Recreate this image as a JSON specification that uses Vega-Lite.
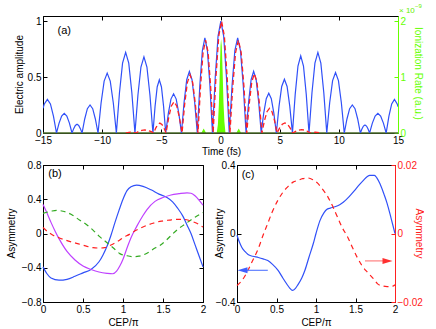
{
"$schema": "https://vega.github.io/schema/vega-lite/v6.json",
"background": "white",
"padding": {"left": 5, "top": 2, "right": 0, "bottom": 0},
"spacing": 2,
"config": {
 "view": {"stroke": "#000", "strokeWidth": 1},
 "axis": {"labelFont": "Liberation Sans", "labelFontSize": 10, "titleFont": "Liberation Sans", "titleFontSize": 10, "titleFontWeight": "normal", "labelColor": "#000", "titleColor": "#000", "domainColor": "#000", "tickColor": "#000", "tickSize": -4, "labelPadding": 6, "grid": false, "labelFlush": false, "labelOverlap": false},
 "text": {"font": "Liberation Sans"}
},
"datasets": {
 "blueA": [
  {"t":-15,"v":0.22},{"t":-14.887,"v":0.26},{"t":-14.63,"v":0.30},{"t":-14.373,"v":0.26},{"t":-14.117,"v":0.15},{"t":-13.86,"v":0},
  {"t":-13.642,"v":0.088},{"t":-13.423,"v":0.152},{"t":-13.205,"v":0.176},{"t":-12.987,"v":0.152},{"t":-12.768,"v":0.088},{"t":-12.55,"v":0},
  {"t":-12.408,"v":0.039},{"t":-12.267,"v":0.068},{"t":-12.125,"v":0.078},{"t":-11.983,"v":0.068},{"t":-11.842,"v":0.039},{"t":-11.7,"v":0},
  {"t":-11.475,"v":0.125},{"t":-11.25,"v":0.217},{"t":-11.025,"v":0.25},{"t":-10.8,"v":0.217},{"t":-10.575,"v":0.125},{"t":-10.35,"v":0},
  {"t":-10.092,"v":0.268},{"t":-9.833,"v":0.463},{"t":-9.575,"v":0.535},{"t":-9.317,"v":0.463},{"t":-9.058,"v":0.268},{"t":-8.8,"v":0},
  {"t":-8.538,"v":0.36},{"t":-8.277,"v":0.624},{"t":-8.015,"v":0.72},{"t":-7.753,"v":0.624},{"t":-7.492,"v":0.36},{"t":-7.23,"v":0},
  {"t":-6.977,"v":0.34},{"t":-6.723,"v":0.589},{"t":-6.47,"v":0.68},{"t":-6.217,"v":0.589},{"t":-5.963,"v":0.34},{"t":-5.71,"v":0},
  {"t":-5.53,"v":0.238},{"t":-5.35,"v":0.411},{"t":-5.17,"v":0.475},{"t":-4.99,"v":0.411},{"t":-4.81,"v":0.238},{"t":-4.63,"v":0},
  {"t":-4.408,"v":0.175},{"t":-4.187,"v":0.303},{"t":-3.965,"v":0.35},{"t":-3.743,"v":0.303},{"t":-3.522,"v":0.175},{"t":-3.3,"v":0},
  {"t":-3.077,"v":0.275},{"t":-2.853,"v":0.476},{"t":-2.63,"v":0.55},{"t":-2.407,"v":0.476},{"t":-2.183,"v":0.275},{"t":-1.96,"v":0},
  {"t":-1.747,"v":0.425},{"t":-1.533,"v":0.736},{"t":-1.32,"v":0.85},{"t":-1.107,"v":0.736},{"t":-0.893,"v":0.425},{"t":-0.68,"v":0},
  {"t":-0.443,"v":0.5},{"t":-0.207,"v":0.866},{"t":0.03,"v":1.0},{"t":0.267,"v":0.866},{"t":0.503,"v":0.5},{"t":0.74,"v":0},
  {"t":0.977,"v":0.425},{"t":1.213,"v":0.736},{"t":1.45,"v":0.85},{"t":1.687,"v":0.736},{"t":1.923,"v":0.425},{"t":2.16,"v":0},
  {"t":2.373,"v":0.275},{"t":2.587,"v":0.476},{"t":2.8,"v":0.55},{"t":3.013,"v":0.476},{"t":3.227,"v":0.275},{"t":3.44,"v":0},
  {"t":3.653,"v":0.178},{"t":3.867,"v":0.307},{"t":4.08,"v":0.355},{"t":4.293,"v":0.307},{"t":4.507,"v":0.178},{"t":4.72,"v":0},
  {"t":4.947,"v":0.24},{"t":5.173,"v":0.416},{"t":5.4,"v":0.48},{"t":5.627,"v":0.416},{"t":5.853,"v":0.24},{"t":6.08,"v":0},
  {"t":6.313,"v":0.345},{"t":6.547,"v":0.598},{"t":6.78,"v":0.69},{"t":7.013,"v":0.598},{"t":7.247,"v":0.345},{"t":7.48,"v":0},
  {"t":7.73,"v":0.36},{"t":7.98,"v":0.624},{"t":8.23,"v":0.72},{"t":8.48,"v":0.624},{"t":8.73,"v":0.36},{"t":8.98,"v":0},
  {"t":9.227,"v":0.27},{"t":9.473,"v":0.468},{"t":9.72,"v":0.54},{"t":9.967,"v":0.468},{"t":10.213,"v":0.27},{"t":10.46,"v":0},
  {"t":10.687,"v":0.125},{"t":10.913,"v":0.217},{"t":11.14,"v":0.25},{"t":11.367,"v":0.217},{"t":11.593,"v":0.125},{"t":11.82,"v":0},
  {"t":11.95,"v":0.036},{"t":12.08,"v":0.062},{"t":12.21,"v":0.072},{"t":12.34,"v":0.062},{"t":12.47,"v":0.036},{"t":12.6,"v":0},
  {"t":12.833,"v":0.088},{"t":13.067,"v":0.152},{"t":13.3,"v":0.176},{"t":13.533,"v":0.152},{"t":13.767,"v":0.088},{"t":14.0,"v":0},
  {"t":14.233,"v":0.15},{"t":14.467,"v":0.26},{"t":14.7,"v":0.30},{"t":14.933,"v":0.26},{"t":15,"v":0.235}
 ],
 "redA": [
  {"t":-8,"v":0},{"t":-7.6,"v":0.008},{"t":-7.15,"v":0},
  {"t":-6.9,"v":0.014},{"t":-6.65,"v":0.024},{"t":-6.4,"v":0.028},{"t":-6.15,"v":0.024},{"t":-5.9,"v":0.014},{"t":-5.65,"v":0},
  {"t":-5.475,"v":0.044},{"t":-5.3,"v":0.076},{"t":-5.125,"v":0.088},{"t":-4.95,"v":0.076},{"t":-4.775,"v":0.044},{"t":-4.6,"v":0},
  {"t":-4.375,"v":0.14},{"t":-4.15,"v":0.242},{"t":-3.925,"v":0.28},{"t":-3.7,"v":0.242},{"t":-3.475,"v":0.14},{"t":-3.25,"v":0},
  {"t":-3.025,"v":0.26},{"t":-2.8,"v":0.45},{"t":-2.575,"v":0.52},{"t":-2.35,"v":0.45},{"t":-2.125,"v":0.26},{"t":-1.9,"v":0},
  {"t":-1.687,"v":0.415},{"t":-1.473,"v":0.719},{"t":-1.26,"v":0.83},{"t":-1.047,"v":0.719},{"t":-0.833,"v":0.415},{"t":-0.62,"v":0},
  {"t":-0.383,"v":0.5},{"t":-0.147,"v":0.866},{"t":0.09,"v":1.0},{"t":0.327,"v":0.866},{"t":0.563,"v":0.5},{"t":0.8,"v":0},
  {"t":1.037,"v":0.415},{"t":1.273,"v":0.719},{"t":1.51,"v":0.83},{"t":1.747,"v":0.719},{"t":1.983,"v":0.415},{"t":2.22,"v":0},
  {"t":2.433,"v":0.265},{"t":2.647,"v":0.459},{"t":2.86,"v":0.53},{"t":3.073,"v":0.459},{"t":3.287,"v":0.265},{"t":3.5,"v":0},
  {"t":3.713,"v":0.11},{"t":3.927,"v":0.19},{"t":4.14,"v":0.22},{"t":4.353,"v":0.19},{"t":4.567,"v":0.11},{"t":4.78,"v":0},
  {"t":5.0,"v":0.045},{"t":5.22,"v":0.078},{"t":5.44,"v":0.09},{"t":5.66,"v":0.078},{"t":5.88,"v":0.045},{"t":6.1,"v":0},
  {"t":6.35,"v":0.015},{"t":6.6,"v":0.026},{"t":6.85,"v":0.03},{"t":7.1,"v":0.026},{"t":7.35,"v":0.015},{"t":7.6,"v":0},
  {"t":8.0,"v":0.008},{"t":8.5,"v":0}
 ],
 "greenA": [
  {"t":-15,"r":0},{"t":-1.62,"r":0},{"t":-1.42,"r":0.08},{"t":-1.22,"r":0},{"t":-0.32,"r":0},{"t":-0.22,"r":0.15},{"t":-0.14,"r":0.5},{"t":-0.06,"r":1.1},{"t":0,"r":1.55},{"t":0.05,"r":1.68},{"t":0.11,"r":1.55},{"t":0.18,"r":1.1},{"t":0.25,"r":0.55},{"t":0.33,"r":0.2},{"t":0.42,"r":0},{"t":1.34,"r":0},{"t":1.54,"r":0.08},{"t":1.74,"r":0},{"t":15,"r":0}
 ],
 "bBlue": [
  {"x":0,"y":-0.39},{"x":0.05,"y":-0.47},{"x":0.1,"y":-0.52},{"x":0.2,"y":-0.545},{"x":0.3,"y":-0.535},{"x":0.4,"y":-0.5},{"x":0.5,"y":-0.46},{"x":0.6,"y":-0.42},{"x":0.7,"y":-0.33},{"x":0.75,"y":-0.25},{"x":0.8,"y":-0.15},{"x":0.85,"y":-0.02},{"x":0.9,"y":0.13},{"x":0.95,"y":0.27},{"x":1.0,"y":0.4},{"x":1.05,"y":0.5},{"x":1.1,"y":0.545},{"x":1.17,"y":0.565},{"x":1.25,"y":0.55},{"x":1.35,"y":0.51},{"x":1.45,"y":0.46},{"x":1.55,"y":0.42},{"x":1.62,"y":0.37},{"x":1.68,"y":0.3},{"x":1.75,"y":0.2},{"x":1.8,"y":0.1},{"x":1.85,"y":0.0},{"x":1.9,"y":-0.13},{"x":1.95,"y":-0.26},{"x":2.0,"y":-0.39}
 ],
 "bMag": [
  {"x":0,"y":0.34},{"x":0.05,"y":0.24},{"x":0.1,"y":0.13},{"x":0.15,"y":0.03},{"x":0.2,"y":-0.06},{"x":0.3,"y":-0.21},{"x":0.4,"y":-0.31},{"x":0.5,"y":-0.38},{"x":0.6,"y":-0.42},{"x":0.7,"y":-0.45},{"x":0.8,"y":-0.465},{"x":0.87,"y":-0.47},{"x":0.92,"y":-0.44},{"x":0.96,"y":-0.38},{"x":1.0,"y":-0.3},{"x":1.05,"y":-0.17},{"x":1.1,"y":-0.05},{"x":1.17,"y":0.08},{"x":1.25,"y":0.21},{"x":1.3,"y":0.28},{"x":1.4,"y":0.375},{"x":1.5,"y":0.42},{"x":1.6,"y":0.45},{"x":1.7,"y":0.465},{"x":1.8,"y":0.475},{"x":1.85,"y":0.47},{"x":1.9,"y":0.44},{"x":1.95,"y":0.39},{"x":2.0,"y":0.33}
 ],
 "bGreen": [
  {"x":0,"y":0.235},{"x":0.1,"y":0.26},{"x":0.17,"y":0.27},{"x":0.25,"y":0.26},{"x":0.35,"y":0.225},{"x":0.46,"y":0.155},{"x":0.55,"y":0.1},{"x":0.625,"y":0.04},{"x":0.7,"y":-0.03},{"x":0.79,"y":-0.1},{"x":0.88,"y":-0.17},{"x":0.96,"y":-0.235},{"x":1.05,"y":-0.26},{"x":1.125,"y":-0.27},{"x":1.2,"y":-0.265},{"x":1.3,"y":-0.23},{"x":1.4,"y":-0.17},{"x":1.46,"y":-0.14},{"x":1.55,"y":-0.07},{"x":1.625,"y":0.0},{"x":1.7,"y":0.06},{"x":1.79,"y":0.12},{"x":1.9,"y":0.19},{"x":2.0,"y":0.245}
 ],
 "bRed": [
  {"x":0,"y":0.07},{"x":0.06,"y":0.02},{"x":0.125,"y":-0.02},{"x":0.2,"y":-0.05},{"x":0.29,"y":-0.08},{"x":0.38,"y":-0.105},{"x":0.46,"y":-0.125},{"x":0.55,"y":-0.15},{"x":0.625,"y":-0.165},{"x":0.7,"y":-0.17},{"x":0.77,"y":-0.165},{"x":0.85,"y":-0.135},{"x":0.92,"y":-0.1},{"x":1.0,"y":-0.05},{"x":1.08,"y":-0.01},{"x":1.17,"y":0.04},{"x":1.27,"y":0.085},{"x":1.375,"y":0.12},{"x":1.48,"y":0.145},{"x":1.58,"y":0.157},{"x":1.67,"y":0.165},{"x":1.75,"y":0.165},{"x":1.82,"y":0.155},{"x":1.88,"y":0.135},{"x":1.94,"y":0.11},{"x":2.0,"y":0.075}
 ],
 "cBlue": [
  {"x":0,"y":-0.01},{"x":0.03,"y":-0.05},{"x":0.06,"y":-0.08},{"x":0.1,"y":-0.105},{"x":0.14,"y":-0.123},{"x":0.2,"y":-0.133},{"x":0.27,"y":-0.14},{"x":0.33,"y":-0.148},{"x":0.39,"y":-0.158},{"x":0.45,"y":-0.18},{"x":0.52,"y":-0.215},{"x":0.58,"y":-0.26},{"x":0.63,"y":-0.295},{"x":0.67,"y":-0.32},{"x":0.7,"y":-0.332},{"x":0.74,"y":-0.32},{"x":0.77,"y":-0.3},{"x":0.82,"y":-0.26},{"x":0.86,"y":-0.215},{"x":0.91,"y":-0.14},{"x":0.965,"y":-0.06},{"x":1.0,"y":0.0},{"x":1.05,"y":0.075},{"x":1.1,"y":0.12},{"x":1.135,"y":0.14},{"x":1.18,"y":0.148},{"x":1.24,"y":0.156},{"x":1.3,"y":0.168},{"x":1.345,"y":0.182},{"x":1.42,"y":0.215},{"x":1.49,"y":0.252},{"x":1.55,"y":0.285},{"x":1.6,"y":0.31},{"x":1.65,"y":0.333},{"x":1.68,"y":0.34},{"x":1.74,"y":0.34},{"x":1.77,"y":0.325},{"x":1.81,"y":0.29},{"x":1.86,"y":0.23},{"x":1.9,"y":0.176},{"x":1.95,"y":0.09},{"x":2.0,"y":0.0}
 ],
 "cRed": [
  {"x":0,"y":-0.0152},{"x":0.07,"y":-0.0135},{"x":0.14,"y":-0.0107},{"x":0.2,"y":-0.0078},{"x":0.27,"y":-0.0044},{"x":0.33,"y":-0.0005},{"x":0.39,"y":0.003},{"x":0.45,"y":0.0065},{"x":0.52,"y":0.0098},{"x":0.58,"y":0.012},{"x":0.645,"y":0.0137},{"x":0.71,"y":0.015},{"x":0.77,"y":0.0155},{"x":0.83,"y":0.016},{"x":0.9,"y":0.0162},{"x":0.96,"y":0.0157},{"x":1.02,"y":0.0147},{"x":1.08,"y":0.013},{"x":1.15,"y":0.0107},{"x":1.21,"y":0.008},{"x":1.27,"y":0.0049},{"x":1.33,"y":0.0018},{"x":1.4,"y":-0.001},{"x":1.46,"y":-0.004},{"x":1.52,"y":-0.0069},{"x":1.58,"y":-0.0093},{"x":1.65,"y":-0.0113},{"x":1.72,"y":-0.013},{"x":1.78,"y":-0.0147},{"x":1.84,"y":-0.0153},{"x":1.9,"y":-0.0155},{"x":1.95,"y":-0.0155},{"x":2.0,"y":-0.015}
 ]
},
"vconcat": [
 {
  "width": 355, "height": 117,
  "resolve": {"scale": {"y": "independent"}, "axis": {"x": "independent", "y": "independent"}},
  "layer": [
   {"data": {"name": "greenA"}, "mark": {"type": "area", "color": "#66ff00", "clip": true},
    "encoding": {
     "x": {"field": "t", "type": "quantitative", "scale": {"domain": [-15, 15], "nice": false}, "axis": {"orient": "top", "values": [-15,-10,-5,0,5,10,15], "labels": false, "domain": false, "title": null}},
     "y": {"field": "r", "type": "quantitative", "scale": {"domain": [0, 2.09], "nice": false, "zero": false}, "axis": {"orient": "right", "values": [0,1,2], "format": "~g", "title": "Ionization Rate (a.u.)", "titleColor": "#66ff00", "labelColor": "#66ff00", "tickColor": "#66ff00", "domainColor": "#66ff00", "titleX": 19, "titleY": 57, "titleAngle": 90, "titleAlign": "center", "titleBaseline": "middle"}}
    }},
   {"data": {"values": [{}]}, "mark": {"type": "rule", "color": "#4a6b2a", "strokeWidth": 1.5},
    "encoding": {"y": {"datum": 0, "type": "quantitative", "scale": {"domain": [0, 1.045], "nice": false, "zero": false}, "axis": null}}},
   {"data": {"name": "blueA"}, "mark": {"type": "line", "color": "#3050f8", "strokeWidth": 1.2, "clip": true},
    "encoding": {
     "x": {"field": "t", "type": "quantitative", "axis": {"values": [-15,-10,-5,0,5,10,15], "format": "~g", "title": "Time (fs)", "titleX": 178, "titleY": 18, "titleBaseline": "middle", "titleAlign": "center"}},
     "y": {"field": "v", "type": "quantitative", "scale": {"domain": [0, 1.045], "nice": false, "zero": false}, "axis": {"values": [0, 0.5, 1], "format": "~g", "title": "Electric amplitude", "titleX": -24, "titleY": 58, "titleAngle": -90, "titleAlign": "center", "titleBaseline": "middle"}}
    }},
   {"data": {"name": "redA"}, "mark": {"type": "line", "color": "#ff2020", "strokeWidth": 1.3, "strokeDash": [5, 3], "clip": true},
    "encoding": {
     "x": {"field": "t", "type": "quantitative", "axis": null},
     "y": {"field": "v", "type": "quantitative", "scale": {"domain": [0, 1.045], "nice": false, "zero": false}, "axis": null}
    }},
   {"data": {"values": [{}]}, "mark": {"type": "text", "text": "(a)", "fontSize": 11, "align": "center", "baseline": "middle"},
    "encoding": {"x": {"datum": -13.2, "type": "quantitative", "axis": null}, "y": {"datum": 0.91, "type": "quantitative", "scale": {"domain": [0, 1.045], "nice": false, "zero": false}, "axis": null}}},
   {"data": {"values": [{}]}, "mark": {"type": "text", "text": "× 10", "fontSize": 8, "color": "#66ee00", "align": "left", "baseline": "alphabetic", "dx": 1, "dy": -3},
    "encoding": {"x": {"datum": 15, "type": "quantitative", "axis": null}, "y": {"datum": 1.045, "type": "quantitative", "scale": {"domain": [0, 1.045], "nice": false, "zero": false}, "axis": null}}},
   {"data": {"values": [{}]}, "mark": {"type": "text", "text": "−9", "fontSize": 6, "color": "#66ee00", "align": "left", "baseline": "alphabetic", "dx": 17, "dy": -8},
    "encoding": {"x": {"datum": 15, "type": "quantitative", "axis": null}, "y": {"datum": 1.045, "type": "quantitative", "scale": {"domain": [0, 1.045], "nice": false, "zero": false}, "axis": null}}}
  ]
 },
 {
  "spacing": 6,
  "hconcat": [
   {
    "width": 160, "height": 137,
    "resolve": {"axis": {"x": "independent", "y": "independent"}},
    "layer": [
     {"data": {"name": "bBlue"}, "mark": {"type": "line", "color": "#3050f8", "strokeWidth": 1.2, "interpolate": "monotone"},
      "encoding": {
       "x": {"field": "x", "type": "quantitative", "scale": {"domain": [0, 2], "nice": false}, "axis": {"values": [0, 0.5, 1, 1.5, 2], "format": "~g", "title": "CEP/π", "titleX": 80, "titleY": 20, "titleBaseline": "middle", "titleAlign": "center"}},
       "y": {"field": "y", "type": "quantitative", "scale": {"domain": [-0.8, 0.8], "nice": false, "zero": false}, "axis": {"values": [-0.8, -0.4, 0, 0.4, 0.8], "format": "~g", "title": "Asymmetry", "titleX": -32, "titleY": 68, "titleAngle": -90, "titleAlign": "center", "titleBaseline": "middle"}}
      }},
     {"data": {"name": "bMag"}, "mark": {"type": "line", "color": "#bf40ff", "strokeWidth": 1.2, "interpolate": "monotone"},
      "encoding": {
       "x": {"field": "x", "type": "quantitative", "axis": {"orient": "top", "values": [0, 0.5, 1, 1.5, 2], "labels": false, "domain": false, "title": null}},
       "y": {"field": "y", "type": "quantitative", "axis": {"orient": "right", "values": [-0.8, -0.4, 0, 0.4, 0.8], "labels": false, "domain": false, "title": null}}
      }},
     {"data": {"name": "bGreen"}, "mark": {"type": "line", "color": "#33aa22", "strokeWidth": 1.2, "strokeDash": [5, 4], "interpolate": "monotone"},
      "encoding": {"x": {"field": "x", "type": "quantitative", "axis": null}, "y": {"field": "y", "type": "quantitative", "axis": null}}},
     {"data": {"name": "bRed"}, "mark": {"type": "line", "color": "#ff2020", "strokeWidth": 1.2, "strokeDash": [5, 4], "interpolate": "monotone"},
      "encoding": {"x": {"field": "x", "type": "quantitative", "axis": null}, "y": {"field": "y", "type": "quantitative", "axis": null}}},
     {"data": {"values": [{}]}, "mark": {"type": "text", "text": "(b)", "fontSize": 11, "align": "center", "baseline": "middle"},
      "encoding": {"x": {"datum": 0.15, "type": "quantitative", "axis": null}, "y": {"datum": 0.69, "type": "quantitative", "axis": null}}}
    ]
   },
   {
    "width": 158, "height": 137,
    "resolve": {"scale": {"y": "independent"}, "axis": {"x": "independent", "y": "independent"}},
    "layer": [
     {"data": {"name": "cBlue"}, "mark": {"type": "line", "color": "#3050f8", "strokeWidth": 1.2, "interpolate": "monotone"},
      "encoding": {
       "x": {"field": "x", "type": "quantitative", "scale": {"domain": [0, 2], "nice": false}, "axis": {"values": [0, 0.5, 1, 1.5, 2], "format": "~g", "title": "CEP/π", "titleX": 79, "titleY": 20, "titleBaseline": "middle", "titleAlign": "center"}},
       "y": {"field": "y", "type": "quantitative", "scale": {"domain": [-0.4, 0.4], "nice": false, "zero": false}, "axis": {"values": [-0.4, 0, 0.4], "format": "~g", "title": "Asymmetry", "titleX": -18, "titleY": 68, "titleAngle": -90, "titleAlign": "center", "titleBaseline": "middle"}}
      }},
     {"data": {"name": "cRed"}, "mark": {"type": "line", "color": "#ff2020", "strokeWidth": 1.2, "strokeDash": [5, 4], "interpolate": "monotone"},
      "encoding": {
       "x": {"field": "x", "type": "quantitative", "axis": {"orient": "top", "values": [0, 0.5, 1, 1.5, 2], "labels": false, "domain": false, "title": null}},
       "y": {"field": "y", "type": "quantitative", "scale": {"domain": [-0.02, 0.02], "nice": false, "zero": false}, "axis": {"orient": "right", "values": [-0.02, 0, 0.02], "format": "~g", "title": "Asymmetry", "titleColor": "#ff2020", "labelColor": "#ff2020", "tickColor": "#ff2020", "domainColor": "#ff2020", "titleX": 23, "titleY": 68, "titleAngle": 90, "titleAlign": "center", "titleBaseline": "middle"}}
      }},
     {"data": {"values": [{}]}, "mark": {"type": "rule", "color": "#6080ff", "strokeWidth": 1.2},
      "encoding": {"x": {"datum": 0.39, "type": "quantitative", "axis": null}, "x2": {"datum": 0.08}, "y": {"datum": -0.215, "type": "quantitative", "scale": {"domain": [-0.4, 0.4], "nice": false, "zero": false}, "axis": null}}},
     {"data": {"values": [{}]}, "mark": {"type": "point", "shape": "M-1,0L1,-0.6L1,0.6Z", "size": 100, "filled": true, "opacity": 1, "color": "#4060ff"},
      "encoding": {"x": {"datum": 0.07, "type": "quantitative", "axis": null}, "y": {"datum": -0.215, "type": "quantitative", "scale": {"domain": [-0.4, 0.4], "nice": false, "zero": false}, "axis": null}}},
     {"data": {"values": [{}]}, "mark": {"type": "rule", "color": "#ff8080", "strokeWidth": 1.2},
      "encoding": {"x": {"datum": 1.62, "type": "quantitative", "axis": null}, "x2": {"datum": 1.88}, "y": {"datum": -0.16, "type": "quantitative", "scale": {"domain": [-0.4, 0.4], "nice": false, "zero": false}, "axis": null}}},
     {"data": {"values": [{}]}, "mark": {"type": "point", "shape": "M1,0L-1,-0.6L-1,0.6Z", "size": 100, "filled": true, "opacity": 1, "color": "#ff3030"},
      "encoding": {"x": {"datum": 1.905, "type": "quantitative", "axis": null}, "y": {"datum": -0.16, "type": "quantitative", "scale": {"domain": [-0.4, 0.4], "nice": false, "zero": false}, "axis": null}}},
     {"data": {"values": [{}]}, "mark": {"type": "text", "text": "(c)", "fontSize": 11, "align": "center", "baseline": "middle"},
      "encoding": {"x": {"datum": 0.14, "type": "quantitative", "axis": null}, "y": {"datum": 0.34, "type": "quantitative", "scale": {"domain": [-0.4, 0.4], "nice": false, "zero": false}, "axis": null}}}
    ]
   }
  ]
 }
]
}
